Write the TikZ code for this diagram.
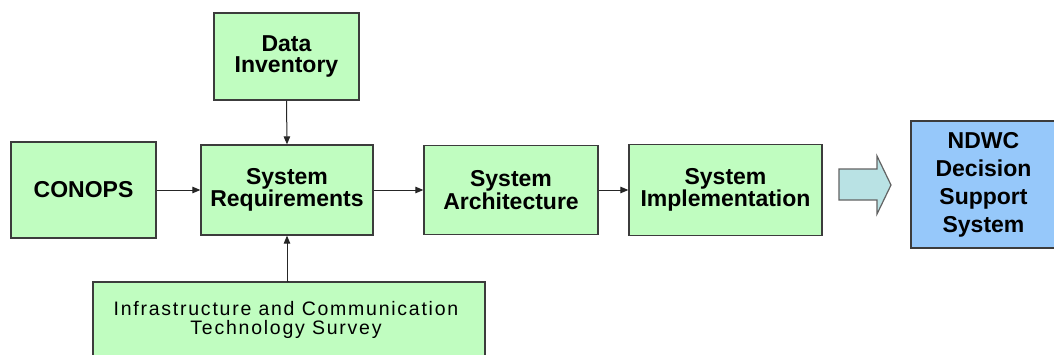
\documentclass[tikz,border=0pt]{standalone}
\usepackage{fontspec}
\setmainfont{Liberation Sans}
\usetikzlibrary{arrows.meta}
\definecolor{boxgreen}{RGB}{192,253,192}
\definecolor{boxblue}{RGB}{150,200,250}
\definecolor{arrowfill}{RGB}{185,226,228}
\definecolor{edgegray}{RGB}{60,60,60}
\tikzset{
  stagebox/.style={draw=edgegray, line width=1.3pt, fill=boxgreen, align=center,
    font=\fontsize{23}{21}\selectfont\bfseries, inner sep=0pt},
  flow/.style={draw=black!85, line width=1pt, -{Triangle[length=8pt,width=6.5pt]}}
}
\begin{document}
\begin{tikzpicture}[x=1pt,y=-1pt]
\useasboundingbox (0,0) rectangle (1054,354);
\fill[white] (0,0) rectangle (1054,354);
\node[stagebox, minimum width=145pt, minimum height=87pt] (data) at (286.5,56.5) {Data\\Inventory};
\node[stagebox, minimum width=145pt, minimum height=96pt] (conops) at (83.5,190) {CONOPS};
\node[stagebox, minimum width=172pt, minimum height=90pt] (req) at (287,190) {System\\Requirements};
\node[stagebox, minimum width=174pt, minimum height=89pt] (arch) at (511,190) {System\\Architecture};
\node[stagebox, minimum width=193pt, minimum height=91pt] (impl) at (725.5,190) {System\\Implementation};
\node[stagebox, fill=boxblue, minimum width=145pt, minimum height=127pt,
  font=\fontsize{23}{28}\selectfont\bfseries] (ndwc) at (983.5,184.5) {NDWC\\Decision\\Support\\System};
\node[draw=edgegray, line width=1.3pt, fill=boxgreen, minimum width=392pt, minimum height=92pt, inner sep=0pt] (infra) at (289,328) {};
\node[align=center, inner sep=0pt, font=\fontsize{19.5}{19.5}\selectfont\addfontfeatures{LetterSpace=9}] (infratext) at (286,320) {Infrastructure and Communication\\Technology Survey};
\draw[flow] (data.south) -- (req.north);
\draw[flow] (conops.east) -- (req.west);
\draw[flow] (req.east) -- (arch.west);
\draw[flow] (arch.east) -- (impl.west);
\draw[flow] (infra.north) -- (req.south |- infra.north) -- (req.south);
\draw[draw=edgegray!80, line width=1.2pt, fill=arrowfill, line join=miter]
  (839,169) -- (877,169) -- (877,156) -- (891,185) -- (877,214) -- (877,200) -- (839,200) -- cycle;
\end{tikzpicture}
\end{document}
